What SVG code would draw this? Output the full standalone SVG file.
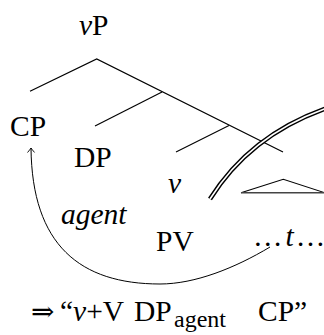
<svg xmlns="http://www.w3.org/2000/svg" width="324" height="335" viewBox="0 0 324 335">
<style>
text{font-family:'Liberation Serif','DejaVu Serif','Noto Serif',serif;font-size:29.5px;fill:#000}
.it{font-style:italic}
.br{stroke:#000;stroke-width:1.2;fill:none}
</style>
<defs>
<marker id="ah" viewBox="-6 -5 8 10" markerWidth="8" markerHeight="10" refX="0" refY="0" orient="auto" markerUnits="userSpaceOnUse">
<path d="M-4.5,-3.5 Q-1.5,-1 0,0 Q-1.5,1 -4.5,3.5" fill="none" stroke="#000" stroke-width="0.9"/>
</marker>
</defs>
<rect width="324" height="335" fill="#fff"/>
<g id="connectors">
<path class="br" d="M30,91.3 L96.7,59 L283,152"/>
<path class="br" d="M95,126 L162,92"/>
<path class="br" d="M176,152 L229,125.5"/>
<path d="M270,247 C235,268 195,284 160,284 C80,284 32,245 31,148" fill="none" stroke="#000" stroke-width="1" marker-end="url(#ah)"/>
</g>
<g id="cut">
<path d="M210,199 Q250,135 327,108" fill="none" stroke="#000" stroke-width="4.6"/>
<path d="M210,199 Q250,135 327,108" fill="none" stroke="#fff" stroke-width="1.6"/>
</g>
<g id="triangle">
<path d="M241,192.8 L283.3,179.3 L325,192.8" fill="none" stroke="#000" stroke-width="1.1"/>
<path d="M241,192.8 L325,192.8" fill="none" stroke="#444" stroke-width="1.6"/>
</g>
<g id="node-vP"><text x="79" y="35"><tspan class="it">v</tspan>P</text></g>
<g id="node-CP"><text x="10" y="136">CP</text></g>
<g id="node-DP"><text x="74" y="167">DP</text></g>
<g id="node-v"><text x="168" y="193" class="it">v</text></g>
<g id="node-agent"><text x="61" y="224" class="it">agent</text></g>
<g id="node-PV"><text x="156" y="251">PV</text></g>
<g id="node-t"><text x="253" y="246">…<tspan class="it" dx="3">t</tspan><tspan dx="2">…</tspan></text></g>
<g id="result">
<text y="321"><tspan x="31" font-size="28">⇒</tspan><tspan x="60">“<tspan class="it">v</tspan>+V</tspan><tspan x="134">DP</tspan><tspan x="174" dy="6" font-size="24">agent</tspan><tspan x="258" dy="-6">CP”</tspan></text>
</g>
</svg>
